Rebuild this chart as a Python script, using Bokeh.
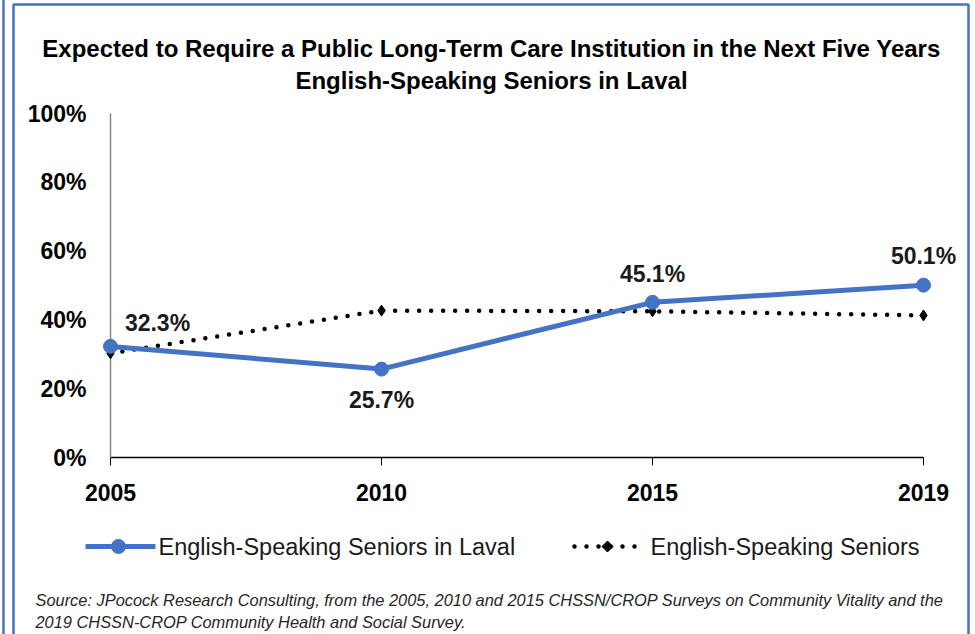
import math
from bokeh.plotting import figure
from bokeh.models import Range1d, FixedTicker, ColumnDataSource
from bokeh.core.properties import value
from bokeh.embed import file_html
from bokeh.resources import INLINE

# ---- data ----
years = ["2005", "2010", "2015", "2019"]
laval = [32.3, 25.7, 45.1, 50.1]
all_seniors = [30.3, 42.7, 42.5, 41.3]
y_ticks = [0, 20, 40, 60, 80, 100]
series_names = ["English-Speaking Seniors in Laval", "English-Speaking Seniors"]
title_lines = ["Expected to Require a Public Long-Term Care Institution in the Next Five Years",
               "English-Speaking Seniors in Laval"]
source_lines = ["Source: JPocock Research Consulting, from the 2005, 2010  and 2015  CHSSN/CROP Surveys on Community Vitality and the",
                "2019  CHSSN-CROP Community Health and Social Survey."]

# ---- layout (canvas pixels) ----
W, H = 975, 634
FL, FR, FT, FB = 110, 923, 113, 457
FONT = "Liberation Sans"
BLUE = "#4472C4"
BORDER = "#4472C4"

n = len(years)
def xd(cx):
    return (cx - FL) / (FR - FL) * (n - 1)
def yd(cy):
    return (FB - cy) / (FB - FT) * 100

p = figure(width=W, height=H, output_backend="svg", toolbar_location=None,
           x_range=Range1d(0, n - 1), y_range=Range1d(0, 100),
           min_border_left=FL, min_border_right=W - FR,
           min_border_top=FT, min_border_bottom=H - FB)
p.outline_line_color = None
p.grid.visible = False
p.background_fill_color = "white"
p.border_fill_color = "white"

# axes
xs = list(range(n))
p.xaxis.ticker = FixedTicker(ticks=xs)
p.xaxis.major_label_overrides = {i: y for i, y in enumerate(years)}
p.xaxis.minor_tick_line_color = None
p.xaxis.major_tick_in = 0
p.xaxis.major_tick_out = 8
p.xaxis.major_tick_line_color = "black"
p.xaxis.axis_line_color = "black"
p.xaxis.axis_line_width = 1.5
p.xaxis.major_label_text_font = FONT
p.xaxis.major_label_text_font_style = "bold"
p.xaxis.major_label_text_font_size = "23px"
p.xaxis.major_label_text_color = "black"
p.xaxis.major_label_standoff = 18

p.yaxis.ticker = FixedTicker(ticks=y_ticks)
p.yaxis.major_label_overrides = {t: f"{t}%" for t in y_ticks}
p.yaxis.minor_tick_line_color = None
p.yaxis.major_tick_line_color = None
p.yaxis.major_tick_in = 0
p.yaxis.major_tick_out = 0
p.yaxis.axis_line_color = "#868686"
p.yaxis.axis_line_width = 1.5
p.yaxis.major_label_text_font = FONT
p.yaxis.major_label_text_font_style = "bold"
p.yaxis.major_label_text_font_size = "23px"
p.yaxis.major_label_text_color = "black"
p.yaxis.major_label_standoff = 24

# series
src = ColumnDataSource(dict(x=xs, laval=laval, allsr=all_seniors,
                            lab=[f"{v:.1f}%" for v in laval],
                            dx=[47, 0, 0, 0], dy=[-23, 31, -28, -29]))

r_dot = p.line("x", "allsr", source=src, line_color="black", line_width=4.5,
               line_dash="0 12", line_cap="round", level="overlay")
r_dia = p.scatter("x", "allsr", source=src, marker="diamond", size=11,
                  fill_color="black", line_color="black", level="overlay")
r_line = p.line("x", "laval", source=src, line_color=BLUE, line_width=5, level="overlay")
r_circ = p.scatter("x", "laval", source=src, marker="circle", size=14,
                   fill_color=BLUE, line_color=BLUE, level="overlay")

p.text("x", "laval", text="lab", source=src, x_offset="dx", y_offset="dy",
       text_align="center", text_baseline="middle", text_font=value(FONT),
       text_font_style="bold", text_font_size="23px", text_color="#1a1a1a",
       level="overlay")

# legend (drawn by hand, horizontal, below the plot)
LEG_Y = 546
p.line([xd(85), xd(155)], [yd(LEG_Y)] * 2, line_color=BLUE, line_width=5, level="overlay")
cx, r = 118, 7
p.patch([xd(cx + r * math.cos(2 * math.pi * k / 36)) for k in range(36)],
        [yd(LEG_Y + r * math.sin(2 * math.pi * k / 36)) for k in range(36)],
        fill_color=BLUE, line_color=BLUE, level="overlay")
p.line([xd(574), xd(643)], [yd(LEG_Y)] * 2, line_color="black", line_width=4.5,
       line_dash="0 12", line_cap="round", level="overlay")
dx_, h_ = 607, 5.5
p.patch([xd(dx_ - h_), xd(dx_), xd(dx_ + h_), xd(dx_)],
        [yd(LEG_Y), yd(LEG_Y - h_), yd(LEG_Y), yd(LEG_Y + h_)],
        fill_color="black", line_color="black", level="overlay")
p.text([xd(158), xd(650)], [yd(LEG_Y)] * 2, text=series_names, text_align="left",
       text_baseline="middle", text_font=value(FONT), text_font_size="23.5px",
       text_color="#1a1a1a", level="overlay")

# title
p.text([xd(491)] * 2, [yd(48), yd(80)], text=title_lines, text_align="center",
       text_baseline="alphabetic", text_font=value(FONT), text_font_style="bold",
       text_font_size="24px", text_color="black", level="overlay")

# source note
p.text([xd(35)] * 2, [yd(599), yd(621)], text=source_lines, text_align="left",
       text_baseline="middle", text_font=value(FONT), text_font_style="italic",
       text_font_size="16.4px", text_color="#262626", level="overlay")

# blue frame lines around the chart
p.line([xd(13), xd(13), xd(968), xd(968)], [yd(640), yd(4), yd(4), yd(640)],
       line_color=BORDER, line_width=2.5, level="overlay")
p.line([xd(3), xd(3)], [yd(-5), yd(640)], line_color=BORDER, line_width=2.5, level="overlay")

open("out.html", "w").write(file_html(p, INLINE))
